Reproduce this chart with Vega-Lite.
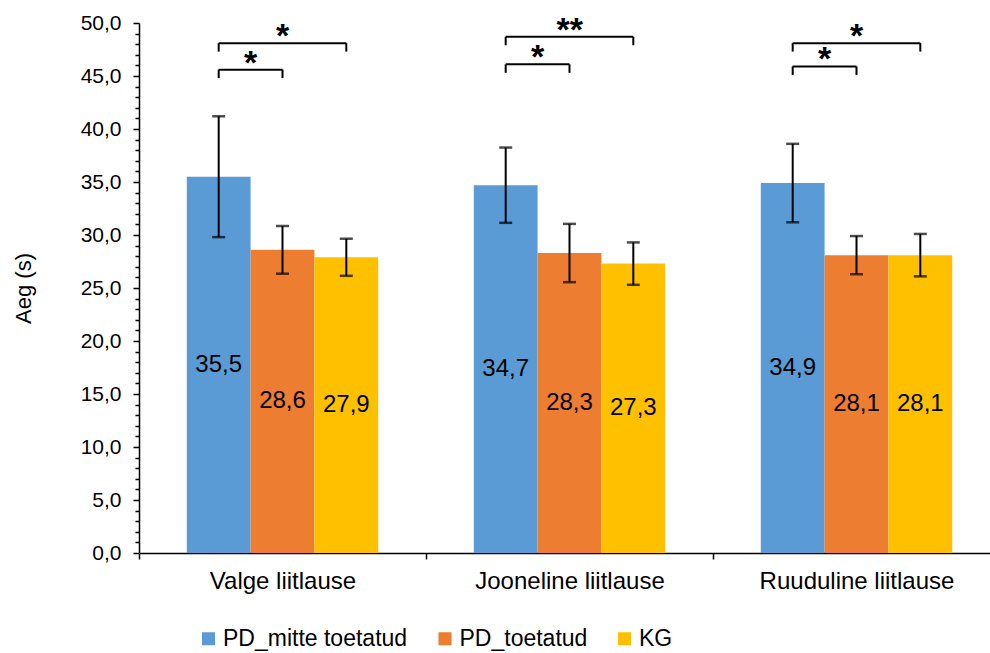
{
  "$schema": "https://vega.github.io/schema/vega-lite/v6.json",
  "autosize": {"type": "none"},
  "padding": {"left": 139, "top": 23, "right": 0, "bottom": 100},
  "width": 851,
  "height": 530,
  "config": {
    "view": {"stroke": null},
    "font": "Liberation Sans",
    "axis": {"domainColor": "#000000", "tickColor": "#000000", "labelColor": "#000000", "titleColor": "#000000", "grid": false, "domainWidth": 1.5, "tickWidth": 1.5, "labelFont": "Liberation Sans", "titleFont": "Liberation Sans"},
    "legend": {"labelFont": "Liberation Sans", "labelColor": "#000000"}
  },
  "datasets": {
    "bars": [
      {"cat": "Valge liitlause", "group": "PD_mitte toetatud", "mean": 35.5, "lo": 29.8, "hi": 41.2},
      {"cat": "Valge liitlause", "group": "PD_toetatud", "mean": 28.6, "lo": 26.35, "hi": 30.85},
      {"cat": "Valge liitlause", "group": "KG", "mean": 27.9, "lo": 26.15, "hi": 29.65},
      {"cat": "Jooneline liitlause", "group": "PD_mitte toetatud", "mean": 34.7, "lo": 31.15, "hi": 38.25},
      {"cat": "Jooneline liitlause", "group": "PD_toetatud", "mean": 28.3, "lo": 25.55, "hi": 31.05},
      {"cat": "Jooneline liitlause", "group": "KG", "mean": 27.3, "lo": 25.3, "hi": 29.3},
      {"cat": "Ruuduline liitlause", "group": "PD_mitte toetatud", "mean": 34.9, "lo": 31.2, "hi": 38.6},
      {"cat": "Ruuduline liitlause", "group": "PD_toetatud", "mean": 28.1, "lo": 26.3, "hi": 29.9},
      {"cat": "Ruuduline liitlause", "group": "KG", "mean": 28.1, "lo": 26.1, "hi": 30.1}
    ],
    "brackets": [
      {"cat": "Valge liitlause", "kind": "near", "from": "PD_mitte toetatud", "to": "PD_toetatud", "level": 45.6, "label": "*"},
      {"cat": "Valge liitlause", "kind": "far", "from": "PD_mitte toetatud", "to": "KG", "level": 48.1, "label": "*"},
      {"cat": "Jooneline liitlause", "kind": "near", "from": "PD_mitte toetatud", "to": "PD_toetatud", "level": 46.1, "label": "*"},
      {"cat": "Jooneline liitlause", "kind": "far", "from": "PD_mitte toetatud", "to": "KG", "level": 48.7, "label": "**"},
      {"cat": "Ruuduline liitlause", "kind": "near", "from": "PD_mitte toetatud", "to": "PD_toetatud", "level": 45.9, "label": "*"},
      {"cat": "Ruuduline liitlause", "kind": "far", "from": "PD_mitte toetatud", "to": "KG", "level": 48.1, "label": "*"}
    ]
  },
  "layer": [
    {
      "data": {"name": "bars"},
      "mark": {"type": "bar"},
      "encoding": {
        "x": {"field": "cat", "type": "nominal", "title": null,
              "scale": {"domain": ["Valge liitlause", "Jooneline liitlause", "Ruuduline liitlause"], "paddingInner": 0, "paddingOuter": 0, "range": [0, 861]},
              "axis": {"title": null, "labelAngle": 0, "labelFontSize": 24, "labelPadding": 10, "tickBand": "extent", "tickSize": 6, "labelLimit": 400}},
        "xOffset": {"field": "group", "type": "nominal",
                    "scale": {"domain": ["PD_mitte toetatud", "PD_toetatud", "KG"], "paddingInner": 0, "paddingOuter": 0.749}},
        "y": {"field": "mean", "type": "quantitative",
              "scale": {"domain": [0, 50], "nice": false},
              "axis": {"title": "Aeg (s)", "values": [0, 5, 10, 15, 20, 25, 30, 35, 40, 45, 50],
                       "labelExpr": "replace(format(datum.value, '.1f'), '.', ',')",
                       "labelFontSize": 21, "tickSize": 6, "labelPadding": 12,
                       "titleFontSize": 22, "titleFontWeight": "normal", "titlePadding": 45}},
        "color": {"field": "group", "type": "nominal",
                  "scale": {"domain": ["PD_mitte toetatud", "PD_toetatud", "KG"], "range": ["#5B9BD5", "#ED7D31", "#FFC000"]},
                  "legend": {"title": null, "orient": "none", "legendX": 58, "legendY": 604, "direction": "horizontal",
                             "symbolType": "square", "symbolSize": 170, "symbolStrokeWidth": 0, "labelFontSize": 23,
                             "labelOffset": 3, "columnPadding": 25.5, "padding": 0, "labelLimit": 500}}
      }
    },
    {
      "data": {"name": "bars"},
      "mark": {"type": "rule", "color": "#000000", "strokeWidth": 2},
      "encoding": {
        "x": {"field": "cat", "type": "nominal", "title": null},
        "xOffset": {"field": "group", "type": "nominal", "scale": {"domain": ["PD_mitte toetatud", "PD_toetatud", "KG"]}},
        "y": {"field": "lo", "type": "quantitative", "scale": {"domain": [0, 50], "nice": false},
              "axis": {"orient": "left", "title": null, "labels": false, "domain": false, "tickSize": 4,
                       "values": [1, 2, 3, 4, 6, 7, 8, 9, 11, 12, 13, 14, 16, 17, 18, 19, 21, 22, 23, 24, 26, 27, 28, 29, 31, 32, 33, 34, 36, 37, 38, 39, 41, 42, 43, 44, 46, 47, 48, 49]}},
        "y2": {"field": "hi"}
      }
    },
    {
      "data": {"name": "bars"},
      "mark": {"type": "tick", "color": "#000000", "size": 13, "thickness": 2.5},
      "encoding": {
        "x": {"field": "cat", "type": "nominal", "title": null},
        "xOffset": {"field": "group", "type": "nominal", "scale": {"domain": ["PD_mitte toetatud", "PD_toetatud", "KG"]}},
        "y": {"field": "hi", "type": "quantitative", "scale": {"domain": [0, 50], "nice": false}, "axis": null}
      }
    },
    {
      "data": {"name": "bars"},
      "mark": {"type": "tick", "color": "#000000", "size": 13, "thickness": 2.5},
      "encoding": {
        "x": {"field": "cat", "type": "nominal", "title": null},
        "xOffset": {"field": "group", "type": "nominal", "scale": {"domain": ["PD_mitte toetatud", "PD_toetatud", "KG"]}},
        "y": {"field": "lo", "type": "quantitative", "scale": {"domain": [0, 50], "nice": false}, "axis": null}
      }
    },
    {
      "data": {"name": "bars"},
      "transform": [
        {"calculate": "replace(format(datum.mean, '.1f'), '.', ',')", "as": "lab"},
        {"calculate": "datum.mean / 2", "as": "mid"}
      ],
      "mark": {"type": "text", "fontSize": 24, "color": "#000000", "baseline": "middle", "align": "center"},
      "encoding": {
        "x": {"field": "cat", "type": "nominal", "title": null},
        "xOffset": {"field": "group", "type": "nominal", "scale": {"domain": ["PD_mitte toetatud", "PD_toetatud", "KG"]}},
        "y": {"field": "mid", "type": "quantitative", "scale": {"domain": [0, 50], "nice": false}, "axis": null},
        "text": {"field": "lab", "type": "nominal"}
      }
    },
    {
      "data": {"name": "brackets"},
      "transform": [
        {"fold": ["from", "to"], "as": ["end", "grp"]}
      ],
      "mark": {"type": "line", "color": "#000000", "strokeWidth": 2},
      "encoding": {
        "x": {"field": "cat", "type": "nominal", "title": null},
        "xOffset": {"field": "grp", "type": "nominal", "scale": {"domain": ["PD_mitte toetatud", "PD_toetatud", "KG"]}},
        "y": {"field": "level", "type": "quantitative", "scale": {"domain": [0, 50], "nice": false}, "axis": null},
        "detail": [{"field": "cat"}, {"field": "kind"}],
        "order": {"field": "end"}
      }
    },
    {
      "data": {"name": "brackets"},
      "transform": [
        {"fold": ["from", "to"], "as": ["end", "grp"]},
        {"calculate": "datum.level - 0.8", "as": "legEnd"}
      ],
      "mark": {"type": "rule", "color": "#000000", "strokeWidth": 2},
      "encoding": {
        "x": {"field": "cat", "type": "nominal", "title": null},
        "xOffset": {"field": "grp", "type": "nominal", "scale": {"domain": ["PD_mitte toetatud", "PD_toetatud", "KG"]}},
        "y": {"field": "level", "type": "quantitative", "scale": {"domain": [0, 50], "nice": false}, "axis": null},
        "y2": {"field": "legEnd"}
      }
    },
    {
      "data": {"name": "brackets"},
      "transform": [{"filter": "datum.kind == 'near'"}],
      "mark": {"type": "text", "fontSize": 34, "fontWeight": "bold", "color": "#000000", "baseline": "alphabetic", "align": "center", "dx": 32, "dy": 4},
      "encoding": {
        "x": {"field": "cat", "type": "nominal", "title": null},
        "xOffset": {"field": "from", "type": "nominal", "scale": {"domain": ["PD_mitte toetatud", "PD_toetatud", "KG"]}},
        "y": {"field": "level", "type": "quantitative", "scale": {"domain": [0, 50], "nice": false}, "axis": null},
        "text": {"field": "label", "type": "nominal"}
      }
    },
    {
      "data": {"name": "brackets"},
      "transform": [{"filter": "datum.kind == 'far'"}],
      "mark": {"type": "text", "fontSize": 34, "fontWeight": "bold", "color": "#000000", "baseline": "alphabetic", "align": "center", "dx": 64, "dy": 4},
      "encoding": {
        "x": {"field": "cat", "type": "nominal", "title": null},
        "xOffset": {"field": "from", "type": "nominal", "scale": {"domain": ["PD_mitte toetatud", "PD_toetatud", "KG"]}},
        "y": {"field": "level", "type": "quantitative", "scale": {"domain": [0, 50], "nice": false}, "axis": null},
        "text": {"field": "label", "type": "nominal"}
      }
    }
  ],
  "resolve": {"axis": {"y": "independent"}}
}
